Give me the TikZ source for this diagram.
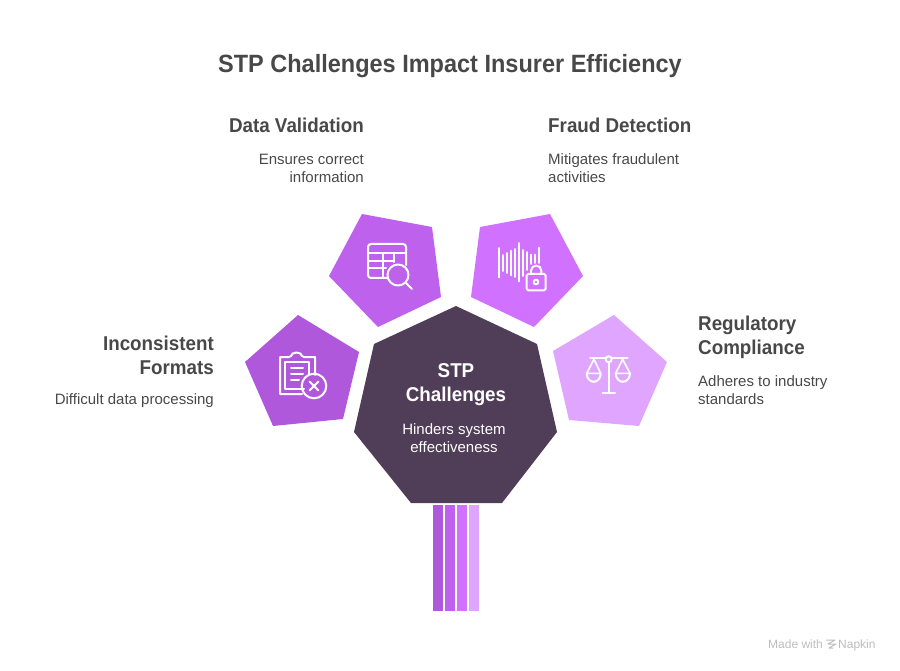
\documentclass[tikz,border=0pt]{standalone}
\usepackage{fontspec}
\setmainfont{Liberation Sans}
\newfontfamily\headfont{Liberation Sans}[FakeStretch=0.94]
\definecolor{ca}{HTML}{AF58DB}
\definecolor{cb}{HTML}{BE62EE}
\definecolor{cc}{HTML}{D071FF}
\definecolor{cd}{HTML}{E0A6FF}
\definecolor{dark}{HTML}{503D57}
\definecolor{ink}{HTML}{484848}
\definecolor{wmgrey}{HTML}{BDBDBD}
\tikzset{
  head/.style={text=ink,inner sep=0pt,font=\headfont\fontsize{20}{24}\selectfont\bfseries},
  body/.style={text=ink,inner sep=0pt,font=\fontsize{15}{18}\selectfont},
  ico/.style={draw=white,line width=2pt,line cap=round,line join=round},
  tiny/.style={text=wmgrey,inner sep=0pt,font=\fontsize{12}{14}\selectfont}
}
\begin{document}
\begin{tikzpicture}[x=1pt,y=-1pt]
\useasboundingbox (0,0) rectangle (900,671);
% shapes
\fill[ca] (298,315)--(359,352)--(343,419)--(273,426)--(245,362)--cycle;
\fill[cb] (362,214)--(432,227)--(441,297)--(378,327)--(329,276)--cycle;
\fill[cc] (550,214)--(583,276)--(534,327)--(471,297)--(480,227)--cycle;
\fill[cd] (614,315)--(667,362)--(639,426)--(569,420)--(553,351)--cycle;
\fill[dark] (456,306)--(537,344)--(557,432)--(502,503)--(411,503)--(354,432)--(374,344)--cycle;
\fill[ca] (433,505) rectangle (443,611);
\fill[cb] (445,505) rectangle (455,611);
\fill[cc] (457,505) rectangle (467,611);
\fill[cd] (469,505) rectangle (479,611);
% clipboard icon
\draw[ico] (302,394)--(280,394)--(280,357)--(289,357)--(291,356) arc (180:360:5.5 and 3.5) -- (304,357)--(315,357)--(315,375);
\draw[ico] (304,388.5)--(285,388.5)--(285,362)--(309,362)--(309,374);
\draw[ico] (291,368)--(303,368) (291,374)--(303,374) (291,380)--(299,380);
\draw[ico] (314,386) circle (12.3);
\draw[ico] (309.5,381.5)--(318.5,390.5) (318.5,381.5)--(309.5,390.5);
% table icon
\draw[ico] (388,278)--(371,278) arc (90:180:3) -- (368,247) arc (180:270:3) -- (403,244) arc (270:360:3) -- (406,265);
\draw[ico] (368,253)--(406,253) (368,261)--(394,261) (368,268)--(386,268) (383,253)--(383,278) (394,253)--(394,262);
\draw[ico] (398,275) circle (10.5);
\draw[ico] (406,283)--(412,289);
% wave and lock icon
\draw[ico,line width=1.7pt] (498.7,248)--(498.7,277.5) (502.7,255)--(502.7,271) (506.7,253)--(506.7,273) (510.7,250.5)--(510.7,275.5) (514.7,249)--(514.7,277) (518.7,243)--(518.7,281.5) (522.7,250)--(522.7,276) (526.7,252)--(526.7,270) (530.7,254.5)--(530.7,264) (534.7,254.5)--(534.7,263) (538.7,247.5)--(538.7,263);
\draw[ico,rounded corners=1.5pt] (526.7,274) rectangle (545.7,290.3);
\draw[ico] (531,274)--(531,270.7) arc (180:360:5.15) -- (541.3,274);
\draw[ico] (536,282) circle (2.3);
% scales icon
\draw[ico] (590,358.3)--(605.7,358.3) (611.7,358.3)--(627.7,358.3);
\draw[ico] (608.7,359.3) circle (3);
\draw[ico] (608.7,362.3)--(608.7,393) (602.7,393)--(615,393);
\draw[ico,line width=1.6pt] (586.7,373.3)--(594,359.3)--(600.7,373.3) -- cycle;
\draw[ico] (586.7,373.3) arc (180:0:7 and 8.5);
\draw[ico,line width=1.6pt] (615.7,373.3)--(622.6,359.3)--(630,373.3) -- cycle;
\draw[ico] (615.7,373.3) arc (180:0:7.15 and 8.5);
% logo
\draw[draw=wmgrey,line width=1pt,line join=round] (826,640)--(835,640)--(828,644)--(836,644)--(829,648)--(833,648);
% texts
\node[text=ink,inner sep=0pt,font=\headfont\fontsize{25}{30}\selectfont\bfseries,anchor=base] (title) at (450,72.5) {STP Challenges Impact Insurer Efficiency};
\node[head,anchor=base east] (dvh) at (364,133) {Data Validation};
\node[body,anchor=east,align=right] (dvb) at (364,168) {Ensures correct\\information};
\node[head,anchor=base west] (fdh) at (548,133) {Fraud Detection};
\node[body,anchor=west,align=left] (fdb) at (548,168) {Mitigates fraudulent\\activities};
\node[head,anchor=east,align=right] (ifh) at (214,355) {Inconsistent\\Formats};
\node[body,anchor=base east] (ifb) at (214,404) {Difficult data processing};
\node[head,anchor=west,align=left] (rch) at (698,337) {Regulatory\\Compliance};
\node[body,anchor=west,align=left] (rcb) at (698,390) {Adheres to industry\\standards};
\node[head,text=white,align=center] (stph) at (456,385) {STP\\Challenges};
\node[body,text=white,align=center] (stpb) at (454,438) {Hinders system\\effectiveness};
\node[tiny,anchor=base west] (made) at (768,648) {Made with};
\node[tiny,anchor=base west] (nap) at (838,648) {Napkin};
\end{tikzpicture}
\end{document}
